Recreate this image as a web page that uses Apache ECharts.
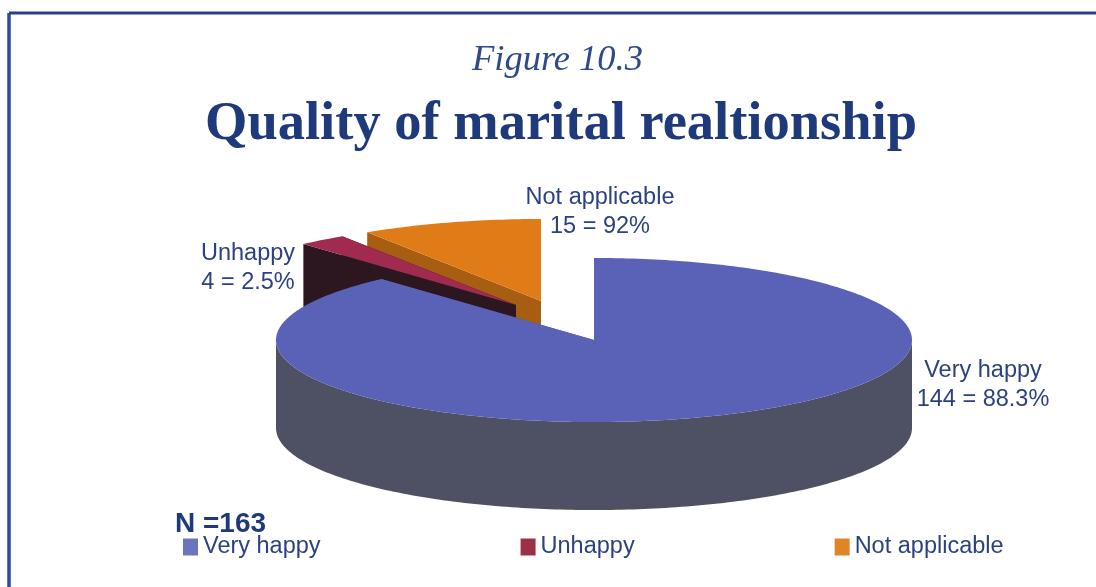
<!DOCTYPE html>
<html>
<head>
<meta charset="utf-8">
<style>
  html, body { margin: 0; padding: 0; background: #fff; }
  #main { width: 1096px; height: 587px; }
</style>
<script src="https://cdn.jsdelivr.net/npm/echarts@6/dist/echarts.min.js"></script>
</head>
<body>
<div id="main"></div>
<script>
// values
const categories = ['Very happy', 'Unhappy', 'Not applicable']
const counts = [144, 4, 15]
const sliceLabels = [['Very happy', '144 = 88.3%'], ['Unhappy', '4 = 2.5%'], ['Not applicable', '15 = 92%']]
const topColors = ['#5a62b8', '#a02a50', '#e07c18']
const sideColors = ['#4e5064', '#2c1620', '#a85e12']
const legendColors = ['#6a75bd', '#9c3048', '#e08428']

// pie geometry, in pixels
const cx = 594, cy = 340, rx = 318, ry = 82, depth = 88
const sliceOffsets = [[0, 0], [-78, -35], [-53, -39]]
const labelSpots = [[983, 385], [248, 268], [600, 212]]
const drawOrder = [3, 2, 1]   // z, so the back slices are painted first

const total = counts.reduce((a, b) => a + b, 0)
const navy = '#1f3a7a', labelBlue = '#2c4280'

const rimPoint = (deg, ox, oy, down) => {
  const a = deg * Math.PI / 180
  return [cx + ox + rx * Math.sin(a), cy + oy + down - ry * Math.cos(a)]
}

const arcDegrees = (from, to) => {
  const out = []
  for (let d = from; d < to; d += 1) out.push(d)
  out.push(to)
  return out
}

const makeSlice = index => {
  const start = counts.slice(0, index).reduce((a, b) => a + b, 0) / total * 360
  const end = start + counts[index] / total * 360
  const [ox, oy] = sliceOffsets[index]
  const apex = [cx + ox, cy + oy]
  const top = [apex, ...arcDegrees(start, end).map(d => rimPoint(d, ox, oy, 0))]
  const below = p => [p[0], p[1] + depth]
  const side = { fill: sideColors[index] }
  const children = []
  // radial walls, flat colour, top face goes over them
  children.push({ type: 'polygon', shape: { points: [apex, top[1], below(top[1]), below(apex)] }, style: side })
  children.push({ type: 'polygon', shape: { points: [apex, top[top.length - 1], below(top[top.length - 1]), below(apex)] }, style: side })
  // outer wall only where the rim faces the viewer
  const frontFrom = Math.max(start, 90), frontTo = Math.min(end, 270)
  if (frontFrom < frontTo) {
    const front = arcDegrees(frontFrom, frontTo)
    children.push({
      type: 'polygon',
      shape: { points: [...front.map(d => rimPoint(d, ox, oy, 0)), ...front.map(d => rimPoint(d, ox, oy, depth)).reverse()] },
      style: side
    })
  }
  children.push({ type: 'polygon', shape: { points: top }, style: { fill: topColors[index] } })
  children.push({
    type: 'text',
    x: labelSpots[index][0],
    y: labelSpots[index][1],
    style: {
      text: sliceLabels[index].join('\n'),
      fill: labelBlue,
      font: '23.5px "Liberation Sans"',
      lineHeight: 29,
      align: 'center',
      verticalAlign: 'middle'
    }
  })
  return { type: 'group', children }
}

const chart = echarts.init(document.getElementById('main'), null, { renderer: 'canvas' })
chart.setOption({
  animation: false,
  backgroundColor: '#ffffff',
  title: [
    {
      text: 'Figure 10.3', left: 467, top: 37,
      textStyle: { fontFamily: 'Liberation Serif', fontStyle: 'italic', fontWeight: 'normal', fontSize: 36.5, color: '#2e4a8a' }
    },
    {
      text: 'Quality of marital realtionship', left: 200, top: 92,
      textStyle: { fontFamily: 'Liberation Serif', fontWeight: 'bold', fontSize: 54.5, color: navy }
    },
    {
      text: 'N =163', left: 170, top: 505,
      textStyle: { fontFamily: 'Liberation Sans', fontWeight: 'bold', fontSize: 28, color: navy }
    }
  ],
  legend: {
    data: categories.map((name, i) => ({ name, itemStyle: { color: legendColors[i] } })),
    left: 178, top: 530,
    itemWidth: 15, itemHeight: 17, itemGap: 200,
    icon: 'rect',
    selectedMode: false,
    textStyle: { fontFamily: 'Liberation Sans', fontSize: 23.5, color: labelBlue }
  },
  graphic: [
    { type: 'line', shape: { x1: 9, y1: 13, x2: 1096, y2: 13 }, style: { stroke: '#2b3f80', lineWidth: 3 } },
    { type: 'line', shape: { x1: 9, y1: 13, x2: 9, y2: 587 }, style: { stroke: '#2a4a9a', lineWidth: 3.5 } }
  ],
  series: categories.map((name, i) => ({
    type: 'custom',
    name,
    coordinateSystem: 'none',
    z: drawOrder[i],
    silent: true,
    itemStyle: { color: legendColors[i] },
    data: [counts[i]],
    renderItem: () => makeSlice(i)
  }))
})
</script>
</body>
</html>
